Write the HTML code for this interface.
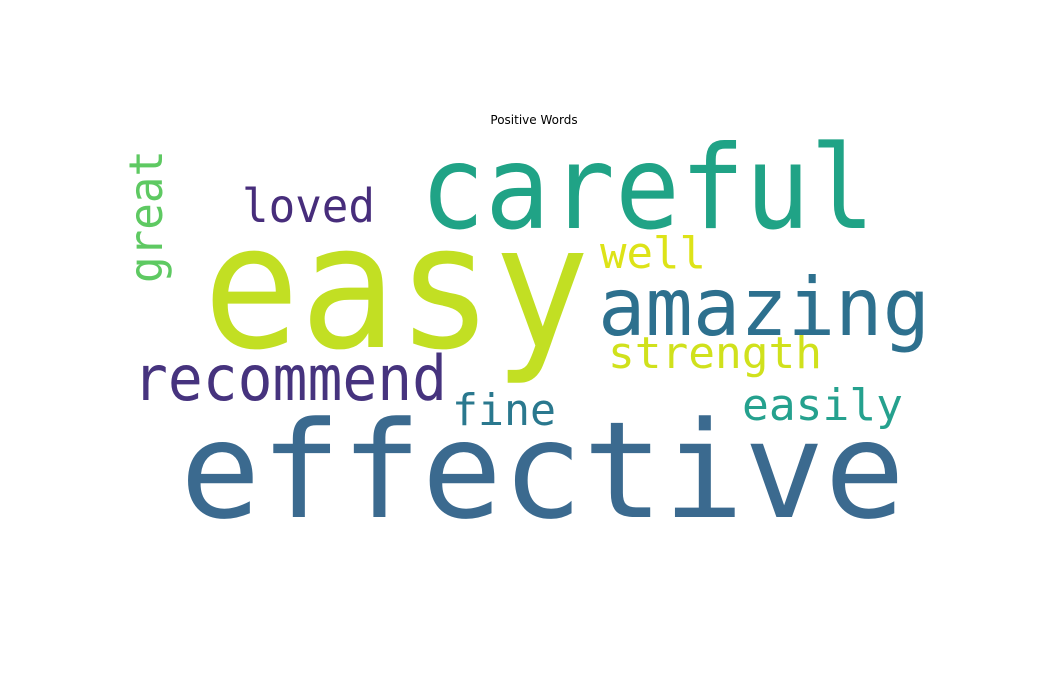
<!DOCTYPE html>
<html><head><meta charset="utf-8"><style>
html,body{margin:0;padding:0;background:#fff;width:1046px;height:674px;overflow:hidden}
svg text.w{font-family:"DejaVu Sans Mono","Liberation Mono",monospace}
</style></head><body>
<svg width="1046" height="674">
<text x="534" y="124" text-anchor="middle" font-family="DejaVu Sans, Liberation Sans, sans-serif" font-size="12">Positive Words</text>
<g id="cloud"></g>
</svg>
<script>
const words = ["easy","effective","careful","amazing","recommend","loved","well","strength","fine","easily","great"];
const sizes = [172,134,116,80,62,46,44,44,44,44,46];
const xs = [203,180,420,598,133,242,600,608,452,742,162];
const ys = [347,517,228,335,400,222,268,368,425,420,283];
const lens = [387,725,455,332,314,133,106,214,104,161,133];
const colors = ["#c2df23","#3b6a8f","#20a386","#2d708e","#46337e","#472d7b","#dde318","#d0e11c","#2a788e","#25a18e","#5ec962"];
const rot = [0,0,0,0,0,0,0,0,0,0,-90];
const g = document.getElementById('cloud');
words.forEach((w,i)=>{
  const t = document.createElementNS('http://www.w3.org/2000/svg','text');
  t.setAttribute('class','w');
  
  
  t.setAttribute('font-size', sizes[i]);
  t.setAttribute('fill', colors[i]);
  t.setAttribute('textLength', lens[i]);
  t.setAttribute('lengthAdjust','spacingAndGlyphs');
  if (rot[i]) {
    t.setAttribute('x', 0); t.setAttribute('y', 0);
    t.setAttribute('transform', `translate(${xs[i]},${ys[i]}) rotate(${rot[i]})`);
  } else {
    t.setAttribute('x', xs[i]); t.setAttribute('y', ys[i]);
  }
  t.textContent = w;
  g.appendChild(t);
});
</script>
</body></html>
